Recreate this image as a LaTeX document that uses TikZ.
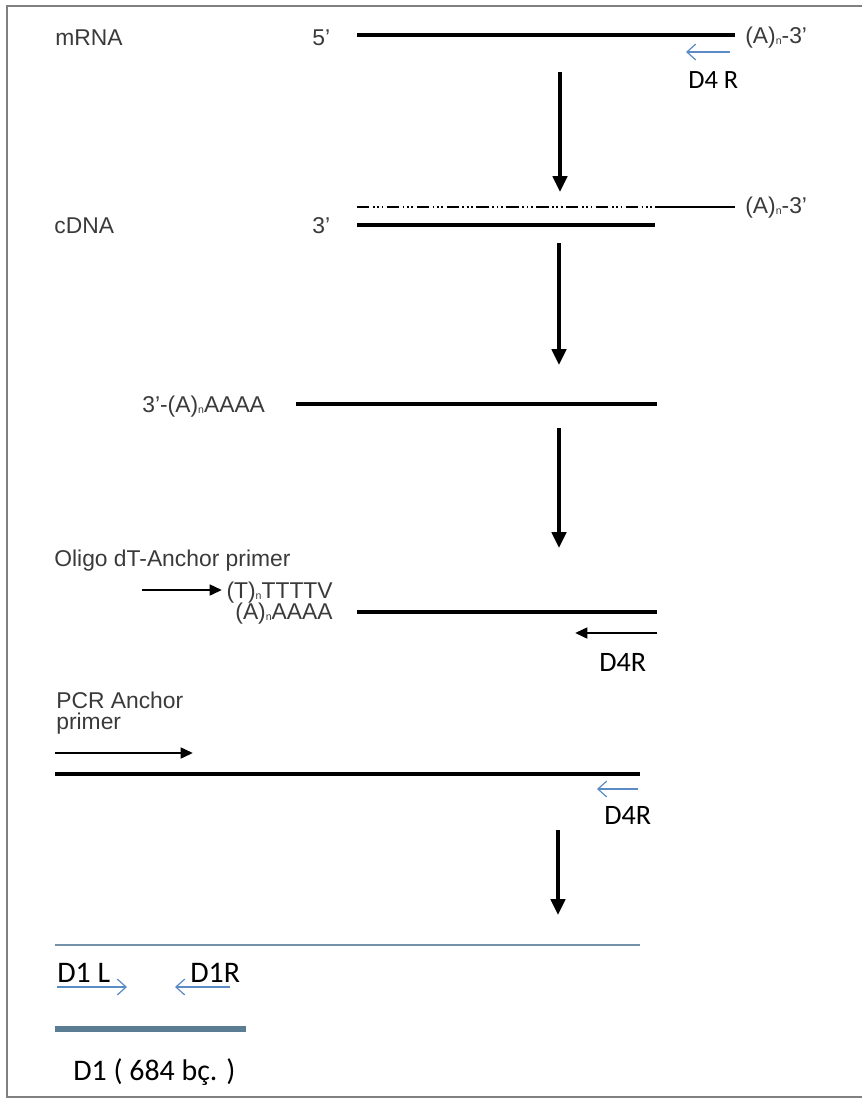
\documentclass[tikz,border=0pt]{standalone}
\usepackage{fontspec}
\setmainfont{Liberation Sans}
\newfontfamily\califont{Carlito}
\usetikzlibrary{arrows.meta}
\definecolor{labelgray}{HTML}{3A3A3A}
\definecolor{primerblue}{HTML}{5B8BC4}
\definecolor{productblue}{HTML}{5A7D94}
\definecolor{thinblue}{HTML}{7391A8}
\definecolor{framegray}{HTML}{808080}
\newcommand{\subn}{{\fontsize{6}{6}\selectfont\raisebox{-1pt}{n}}}
\begin{document}
\begin{tikzpicture}[x=0.02cm,y=-0.02cm,
    lbl/.style={anchor=base west,inner sep=0pt,text=labelgray,font=\fontsize{13}{14}\selectfont},
    clbl/.style={anchor=base west,inner sep=0pt,font=\califont\fontsize{16}{18}\selectfont},
    strand/.style={line width=2.3pt},
    stepdown/.style={line width=2.2pt,-{Triangle[length=9pt,width=8pt]}},
    fwd/.style={line width=1.6pt,-{Triangle[length=7pt,width=6pt]}},
    bluearrow/.style={primerblue,line width=0.7pt,-{Straight Barb[length=5pt,width=9pt]}}]
    \useasboundingbox (0,0) rectangle (862,1100);
    \draw[framegray,line width=1.2pt] (862,6) -- (7,6) -- (7,1097) -- (862,1097);

    % mRNA
    \node[lbl] (mrna) at (55,45) {mRNA};
    \node[lbl] (mfive) at (312,45) {5’};
    \coordinate (ma) at (357,35);
    \coordinate (mb) at (735,35);
    \draw[strand] (ma) -- (mb);
    \node[lbl] (mtail) at (745,43) {(A)\subn-3’};
    \coordinate (ra) at (730,52);
    \coordinate (rb) at (686,52);
    \draw[bluearrow] (ra) -- (rb);
    \node[clbl,font=\califont\fontsize{15}{17}\selectfont] (dfour) at (688,88) {D4 R};
    \coordinate (s1a) at (560,72);
    \coordinate (s1b) at (560,192);
    \draw[stepdown] (s1a) -- (s1b);

    % cDNA
    \node[lbl] (cdna) at (54,233) {cDNA};
    \node[lbl] (cthree) at (312,233) {3’};
    \coordinate (ua) at (357,207);
    \coordinate (ub) at (655,207);
    \coordinate (uc) at (735,207);
    \draw[line width=1.6pt,dash pattern=on 7pt off 2pt on 1pt off 1.5pt on 1pt off 1.5pt on 1pt off 2pt] (ua) -- (ub);
    \draw[line width=1.4pt] (ub) -- (uc);
    \node[lbl] (ctail) at (745,213) {(A)\subn-3’};
    \coordinate (la) at (357,225);
    \coordinate (lb) at (655,225);
    \draw[strand] (la) -- (lb);
    \coordinate (s2a) at (559,243);
    \coordinate (s2b) at (559,365);
    \draw[stepdown] (s2a) -- (s2b);

    % tailed strand
    \node[lbl] (tailed) at (142,412) {3’-(A)\subn AAAA};
    \coordinate (ta) at (296,404);
    \coordinate (tb) at (657,404);
    \draw[line width=1.8pt] (ta) -- (tb);
    \coordinate (s3a) at (559,428);
    \coordinate (s3b) at (559,548);
    \draw[stepdown] (s3a) -- (s3b);

    % oligo dT
    \node[lbl] (oligo) at (54,566) {Oligo dT-Anchor primer};
    \coordinate (oa) at (142,590);
    \coordinate (ob) at (222,590);
    \draw[fwd] (oa) -- (ob);
    \node[lbl,anchor=base east] (tseq) at (333,598) {(T)\subn TTTTV};
    \node[lbl,anchor=base east] (aseq) at (333,619) {(A)\subn AAAA};
    \coordinate (pa) at (357,612);
    \coordinate (pb) at (657,612);
    \draw[strand] (pa) -- (pb);
    \coordinate (qa) at (657,633);
    \coordinate (qb) at (575,633);
    \draw[fwd] (qa) -- (qb);
    \node[clbl] (dfourb) at (599,671) {D4R};

    % PCR anchor
    \node[lbl] (pcr) at (56,708) {PCR Anchor};
    \node[lbl] (primer) at (56,729) {primer};
    \coordinate (aa) at (55,753);
    \coordinate (ab) at (193,753);
    \draw[fwd] (aa) -- (ab);
    \coordinate (xa) at (55,774);
    \coordinate (xb) at (640,774);
    \draw[strand] (xa) -- (xb);
    \coordinate (ya) at (638,789);
    \coordinate (yb) at (597,789);
    \draw[bluearrow] (ya) -- (yb);
    \node[clbl] (dfourc) at (604,824) {D4R};
    \coordinate (s4a) at (558,830);
    \coordinate (s4b) at (558,915);
    \draw[stepdown] (s4a) -- (s4b);

    % D1 product
    \coordinate (ea) at (55,945);
    \coordinate (eb) at (640,945);
    \draw[thinblue,line width=0.8pt] (ea) -- (eb);
    \node[clbl,font=\califont\fontsize{17}{19}\selectfont] (donel) at (57,982) {D1 L};
    \node[clbl,font=\califont\fontsize{17}{19}\selectfont] (doner) at (190,982) {D1R};
    \coordinate (fa) at (57,987);
    \coordinate (fb) at (127,987);
    \draw[bluearrow] (fa) -- (fb);
    \coordinate (ga) at (230,987);
    \coordinate (gb) at (175,987);
    \draw[bluearrow] (ga) -- (gb);
    \coordinate (ha) at (55,1029);
    \coordinate (hb) at (246,1029);
    \draw[productblue,line width=3pt] (ha) -- (hb);
    \node[clbl,font=\califont\fontsize{17}{19}\selectfont] (dprod) at (73,1080) {D1 ( 684 bç. )};
\end{tikzpicture}
\end{document}
